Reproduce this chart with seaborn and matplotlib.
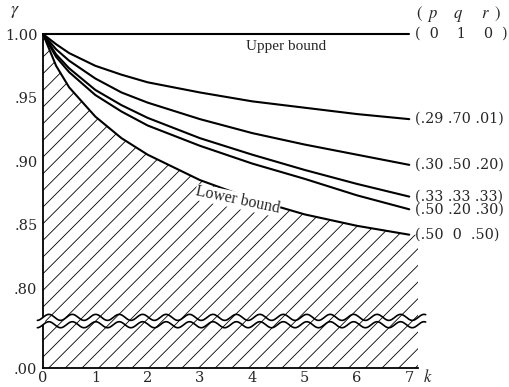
import numpy as np
import pandas as pd
import seaborn as sns
import matplotlib.pyplot as plt

sns.set_style('white')
plt.rcParams['font.family'] = ['Liberation Serif', 'DejaVu Serif']
plt.rcParams['mathtext.fontset'] = 'stix'
plt.rcParams['hatch.linewidth'] = 0.6

#%% data
k = [0, 0.25, 0.5, 1, 1.5, 2, 3, 4, 5, 6, 7]
upper = [1.0, 1.0, 1.0, 1.0, 1.0, 1.0, 1.0, 1.0, 1.0, 1.0, 1.0]
g_29_70_01 = [1.0, 0.992, 0.985, 0.975, 0.968, 0.962, 0.954, 0.947, 0.942, 0.937, 0.933]
g_30_50_20 = [1.0, 0.988, 0.979, 0.965, 0.954, 0.946, 0.933, 0.922, 0.913, 0.905, 0.897]
g_33_33_33 = [1.0, 0.984, 0.973, 0.956, 0.944, 0.934, 0.918, 0.905, 0.893, 0.882, 0.872]
g_50_20_30 = [1.0, 0.982, 0.970, 0.952, 0.939, 0.928, 0.912, 0.898, 0.886, 0.873, 0.862]
lower = [1.0, 0.975, 0.958, 0.935, 0.918, 0.905, 0.885, 0.870, 0.858, 0.849, 0.842]

series = {'(  0    1    0  )': upper,
          '(.29 .70 .01)': g_29_70_01,
          '(.30 .50 .20)': g_30_50_20,
          '(.33 .33 .33)': g_33_33_33,
          '(.50 .20 .30)': g_50_20_30,
          '(.50  0  .50)': lower}

y_ticks = [0.737, 0.80, 0.85, 0.90, 0.95, 1.00]
y_tick_labels = ['.00', '.80', '.85', '.90', '.95', '1.00']
x_ticks = [0, 1, 2, 3, 4, 5, 6, 7]

df = pd.concat([pd.DataFrame({'k': k, 'gamma': v, 'pqr': name})
                for name, v in series.items()], ignore_index=True)

num_font = 'DejaVu Serif'

#%% plot
fig = plt.figure(figsize=(5.09, 3.87), dpi=100)
ax = fig.add_axes([0.0845, 0.049, 0.737, 0.863])

sns.lineplot(data=df, x='k', y='gamma', hue='pqr', palette=['black'] * len(series),
             linewidth=1.5, legend=False, ax=ax, clip_on=False)

x_end = 7.17
ax.set_xlim(0, x_end)
ax.set_ylim(0.737, 1.0)

# hatched region under the lower bound, out to the end of the axis
ax.fill_between(np.append(k, x_end), 0.737, np.append(lower, lower[-1]),
                facecolor='none', edgecolor='black', hatch='//', linewidth=0)

ax.set_xticks(x_ticks)
ax.set_yticks(y_ticks)
ax.set_yticklabels(y_tick_labels)
ax.set_xlabel('')
ax.set_ylabel('')
ax.tick_params(axis='x', direction='in', length=4, width=1, labelsize=10.5, pad=2)
ax.tick_params(axis='y', direction='inout', length=6, width=1, labelsize=10.5, pad=1)
for lab in ax.get_xticklabels() + ax.get_yticklabels():
    lab.set_family(num_font)
for s in ['top', 'right']:
    ax.spines[s].set_visible(False)
for s in ['left', 'bottom']:
    ax.spines[s].set_linewidth(1.3)
    ax.spines[s].set_color('black')

# curve labels at the right
for name, v in series.items():
    ax.text(7.11, v[-1], name, ha='left', va='center', fontsize=10.3,
            family=num_font, clip_on=False)
ax.text(7.13, 1.0157, r'$(\;\;p\;\;\;\;\;q\;\;\;\;\;\;r\;\;)$', ha='left', va='center',
        fontsize=12, clip_on=False)

ax.text(4.65, 0.990, 'Upper bound', ha='center', va='center', fontsize=11)
ax.text(3.72, 0.869, 'Lower bound', ha='center', va='center', fontsize=11.5,
        rotation=-12, zorder=5,
        bbox=dict(boxstyle='square,pad=0.02', facecolor='white', edgecolor='none'))

# axis break (wavy)
xw = np.linspace(-0.015, 1.02, 400)
yc = (0.774 - 0.737) / (1.0 - 0.737)
wave = 0.009 * np.sin(2 * np.pi * xw * 16)
ax.plot(xw, yc + 0.011 + wave, transform=ax.transAxes, color='black', lw=1.2,
        clip_on=False, zorder=4)
ax.plot(xw, yc - 0.011 + wave, transform=ax.transAxes, color='black', lw=1.2,
        clip_on=False, zorder=4)
ax.plot([0, 0], [yc - 0.006, yc + 0.006], transform=ax.transAxes, color='white',
        lw=3, clip_on=False, zorder=3.5)

fig.text(15 / 509, 1 - 12 / 387, r'$\gamma$', fontsize=13, ha='center', va='center')
fig.text(428 / 509, 1 - 377 / 387, r'$k$', fontsize=12, ha='center', va='center')

plt.savefig('out.png', dpi=100)
